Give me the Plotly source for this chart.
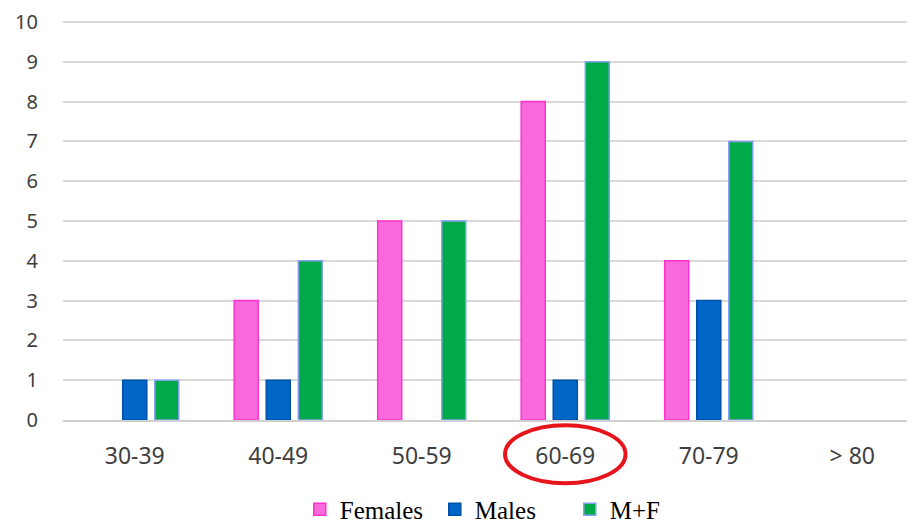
import plotly.graph_objects as go

categories = ["30-39", "40-49", "50-59", "60-69", "70-79", "> 80"]
females = [0, 3, 5, 8, 4, 0]
males = [1, 1, 0, 1, 3, 0]
mf = [1, 4, 5, 9, 7, 0]
y_ticks = list(range(0, 11))
highlight = "60-69"


def nz(vals):
    # zero-height bars are not drawn in the reference
    return [v if v else None for v in vals]


fig = go.Figure()
fig.add_trace(go.Bar(name="Females", x=categories, y=nz(females),
                     marker=dict(color="#F86ADB", line=dict(color="#FF33CC", width=1.5))))
fig.add_trace(go.Bar(name="Males", x=categories, y=nz(males),
                     marker=dict(color="#0066C8", line=dict(color="#0050A8", width=1.5))))
fig.add_trace(go.Bar(name="M+F", x=categories, y=nz(mf),
                     marker=dict(color="#00AA48", line=dict(color="#86A0F0", width=1.5))))

hi = categories.index(highlight)
fig.add_shape(type="circle", xref="x", yref="paper",
              x0=hi - 0.42, x1=hi + 0.42, y0=-0.158, y1=-0.013,
              line=dict(color="#E8141C", width=4))

fig.update_layout(
    width=930, height=545,
    margin=dict(l=55, r=14, t=12, b=133),
    paper_bgcolor="white", plot_bgcolor="white",
    barmode="group", bargap=0.33, bargroupgap=0.25,
    showlegend=True,
    legend=dict(orientation="h", x=0.275, xanchor="left", y=-0.224, yanchor="middle",
                font=dict(family="Liberation Serif", size=25, color="#000000"),
                itemwidth=30, tracegroupgap=0, entrywidth=90, entrywidthmode="pixels"),
    font=dict(family="Noto Sans", size=20, color="#404040"),
)
fig.update_xaxes(range=[-0.5, 5.5], showgrid=False, showline=True, linecolor="#D0D0D0",
                 linewidth=1.5, ticks="", ticklabelstandoff=15, automargin=False,
                 tickfont=dict(family="Noto Sans", size=23, color="#404040"))
fig.update_yaxes(range=[0, 10.05], tickvals=y_ticks, showgrid=True, gridcolor="#D9D9D9",
                 gridwidth=1.5, zeroline=False, showline=False, ticks="",
                 ticklabelstandoff=24, ticklabeloverflow="allow", automargin=False,
                 tickfont=dict(family="Noto Sans", size=20, color="#404040"))

fig.write_html("out.html")
